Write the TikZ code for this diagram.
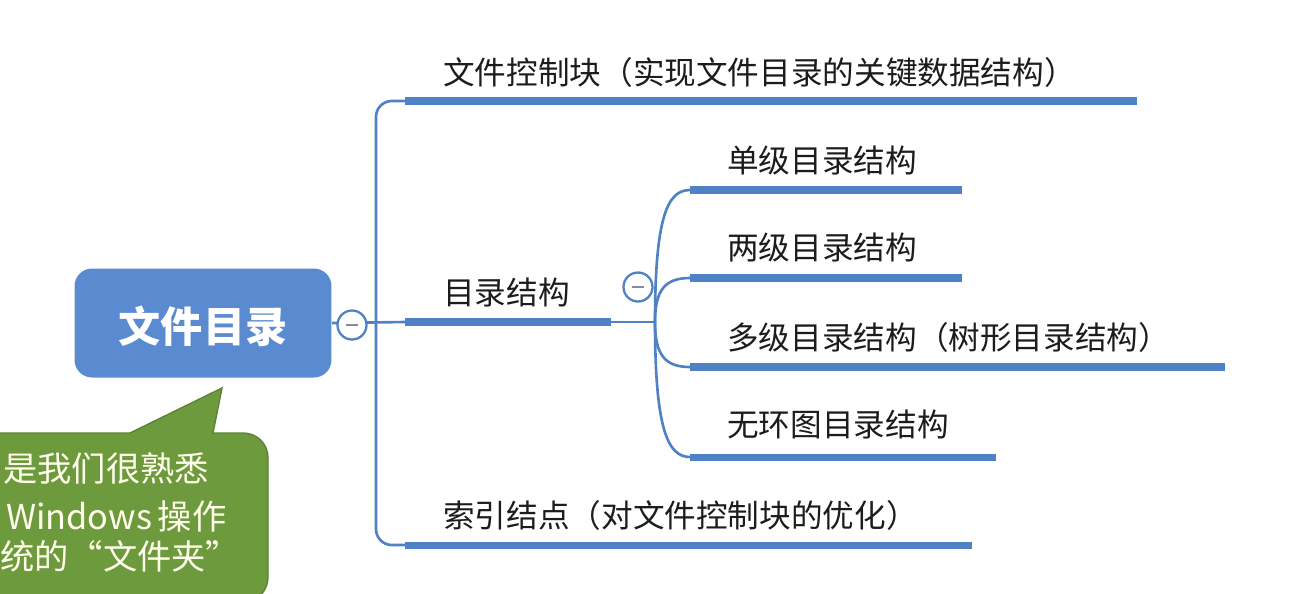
\documentclass[tikz,border=0pt]{standalone}
\usepackage{fontspec}
\setmainfont{Noto Sans CJK SC}
\usetikzlibrary{calc}
\definecolor{mapblue}{HTML}{4F81C5}
\definecolor{rootblue}{HTML}{5A8ACF}
\definecolor{tipgreen}{HTML}{6E9A3E}
\definecolor{tipedge}{HTML}{5C8232}
\definecolor{inkgray}{HTML}{1C1C1C}
\definecolor{foldgray}{HTML}{8A8A9A}

\begin{document}
\begin{tikzpicture}[x=0.02cm, y=-0.02cm,
  bar/.style={line width=4pt, mapblue},
  link/.style={line width=1.5pt, mapblue},
  topic/.style={anchor=west, inner sep=0pt, text=inkgray, font=\fontsize{18}{20}\selectfont},
  fold/.style={circle, draw=mapblue, line width=1.3pt, fill=white, minimum size=0.58cm, inner sep=0pt},
  tipline/.style={anchor=west, inner sep=0pt, text=white!92!yellow, font=\fontsize{19.5}{22}\selectfont}]

  \useasboundingbox (0,0) rectangle (1297,593);
  \clip (0,0) rectangle (1297,593);

  % ----- Root topic -----
  \node[draw=none, fill=rootblue, rounded corners=10pt, minimum width=5.14cm,
        minimum height=2.18cm, inner sep=0pt] at (203,323) (root) {};
  \node[inner sep=0pt, text=white, font=\fontsize{24}{26}\selectfont\bfseries] at (203,326) (rootlbl) {文件目录};

  % ----- Bar end points -----
  \coordinate (fcb-l) at (405,101);  \coordinate (fcb-r) at (1137,101);
  \coordinate (dir-l) at (405,322);  \coordinate (dir-r) at (611,322);
  \coordinate (idx-l) at (405,545);  \coordinate (idx-r) at (972,545);
  \coordinate (trunk-b) at (376,545);
  \coordinate (join) at (655,322);
  \coordinate (one-l) at (690,190);  \coordinate (one-r) at (962,190);
  \coordinate (two-l) at (690,278);  \coordinate (two-r) at (962,278);
  \coordinate (multi-l) at (690,367); \coordinate (multi-r) at (1225,367);
  \coordinate (acyc-l) at (690,457); \coordinate (acyc-r) at (996,457);

  % ----- Trunk and links -----
  \draw[link, rounded corners=9pt] (fcb-l) -| (trunk-b) -- (idx-l);
  \draw[link] (root.east) -- (dir-l);
  \draw[link] (dir-r) -- (join);
  \draw[link] (join) .. controls (655,215) and (668,190) .. (one-l);
  \draw[link] (join) .. controls (655,290) and (665,278) .. (two-l);
  \draw[link] (join) .. controls (655,355) and (665,367) .. (multi-l);
  \draw[link] (join) .. controls (655,430) and (668,457) .. (acyc-l);

  % ----- Topic bars -----
  \draw[bar] (fcb-l) -- (fcb-r);
  \draw[bar] (dir-l) -- (dir-r);
  \draw[bar] (idx-l) -- (idx-r);
  \draw[bar] (one-l) -- (one-r);
  \draw[bar] (two-l) -- (two-r);
  \draw[bar] (multi-l) -- (multi-r);
  \draw[bar] (acyc-l) -- (acyc-r);

  % ----- Fold buttons -----
  \node[fold] at (352,325) (fold1) {\color{foldgray}\rule{0.24cm}{1.3pt}};
  \node[fold] at (638,287) (fold2) {\color{foldgray}\rule{0.24cm}{1.3pt}};

  % ----- Topic texts -----
  \node[topic] at (443,72) (fcb) {文件控制块（实现文件目录的关键数据结构）};
  \node[topic] at (443,292) (dir) {目录结构};
  \node[topic] at (443,515) (idx) {索引结点（对文件控制块的优化）};
  \node[topic] at (727,160) (one) {单级目录结构};
  \node[topic] at (727,247) (two) {两级目录结构};
  \node[topic] at (727,337) (multi) {多级目录结构（树形目录结构）};
  \node[topic] at (727,424) (acyc) {无环图目录结构};

  % ----- Callout -----
  \draw[fill=tipgreen, draw=tipedge, line width=0.8pt]
    (-20,620) |- (130,433) -- (222,388) -- (213,433)
    [rounded corners=14pt] -| (268,602) [sharp corners] -- (-20,602) -- cycle;
  \node[tipline] at (3,468) (tip1) {是我们很熟悉};
  \node[tipline] at (6,516) (tip2) {Windows\,操作};
  \node[tipline] at (0,556) (tip3) {统的“文件夹”};

\end{tikzpicture}
\end{document}
